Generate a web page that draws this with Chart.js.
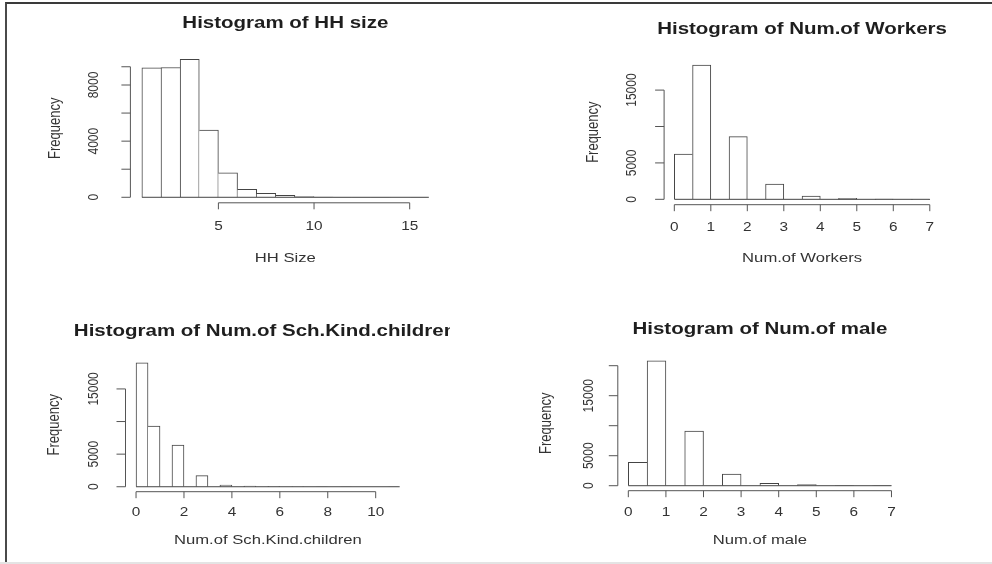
<!DOCTYPE html>
<html>
<head>
<meta charset="utf-8">
<script src="https://cdn.jsdelivr.net/npm/chart.js@4.4.0/dist/chart.umd.min.js"></script>
<style>
  html, body { margin: 0; padding: 0; background: #fff; }
  #page { position: relative; width: 992px; height: 564px; overflow: hidden; background: #fff; }
  #frame { position: absolute; left: 5px; top: 2px; right: 0; bottom: 2px; border-top: 2px solid #3a3a3a; border-left: 2px solid #4a4a4a; }
  #foot { position: absolute; left: 0; right: 0; bottom: 0; height: 2px; background: #e4e4e4; }
  canvas { position: absolute; }
</style>
</head>
<body>
<div id="page">
  <div id="frame"></div>
  <div id="foot"></div>
  <canvas id="c1" width="450" height="282" style="left:0px;top:0px"></canvas>
  <canvas id="c2" width="496" height="282" style="left:496px;top:0px"></canvas>
  <canvas id="c3" width="450" height="282" style="left:0px;top:282px"></canvas>
  <canvas id="c4" width="496" height="282" style="left:496px;top:282px"></canvas>
</div>
<script>
// ---- data ----

// HH size, bins of width 1 (lower edges)
const hhBins = [1, 2, 3, 4, 5, 6, 7, 8, 9, 10, 11, 12, 13, 14, 15];
const hhCounts = [9230, 9250, 9830, 4790, 1750, 570, 285, 140, 50, 12, 5, 2, 1, 0, 1];
const hhXTicks = [5, 10, 15];
const hhYTicks = [0, 2000, 4000, 6000, 8000, 9300];
const hhYLabels = ['0', '', '4000', '', '8000', ''];

// Num.of Workers, bins of width 0.5
const workerBins = [0, 0.5, 1, 1.5, 2, 2.5, 3, 3.5, 4, 4.5, 5, 5.5, 6, 6.5];
const workerCounts = [6220, 18450, 0, 8600, 0, 2100, 0, 450, 0, 120, 0, 20, 0, 5];
const workerXTicks = [0, 1, 2, 3, 4, 5, 6, 7];
const workerYTicks = [0, 5000, 10000, 15000];
const workerYLabels = ['0', '5000', '', '15000'];

// Num.of Sch.Kind.children, bins of width 0.5
const kidBins = [0, 0.5, 1, 1.5, 2, 2.5, 3, 3.5, 4, 4.5, 5, 5.5, 6, 6.5, 7, 7.5, 8, 8.5, 9, 9.5, 10, 10.5];
const kidCounts = [19000, 9300, 0, 6400, 0, 1700, 0, 260, 0, 120, 0, 20, 0, 5, 0, 2, 0, 1, 0, 0, 0, 1];
const kidXTicks = [0, 2, 4, 6, 8, 10];
const kidYTicks = [0, 5000, 10000, 15000];
const kidYLabels = ['0', '5000', '', '15000'];

// Num.of male, bins of width 0.5
const maleBins = [0, 0.5, 1, 1.5, 2, 2.5, 3, 3.5, 4, 4.5, 5, 5.5, 6, 6.5];
const maleCounts = [3900, 20800, 0, 9100, 0, 1950, 0, 400, 0, 170, 0, 20, 0, 5];
const maleXTicks = [0, 1, 2, 3, 4, 5, 6, 7];
const maleYTicks = [0, 5000, 10000, 15000, 20000];
const maleYLabels = ['0', '5000', '', '15000', ''];

// ---- styling ----
const FONT = '"Liberation Sans", Arial, sans-serif';
const TEXT_STRETCH = 1.28;   // the picture is squeezed wider than tall
const barStroke = '#444';
const axisStroke = '#555';

// panels: canvas origin on the page, plot box (page px), text positions (page px)
const panels = [
  {
    canvas: 'c1', origin: [0, 0], area: [130.4, 53.8, 440.3, 202.8],
    xRange: [0.4, 16.6], binWidth: 1,
    bins: hhBins, counts: hhCounts, xTicks: hhXTicks, yTicks: hhYTicks, yLabels: hhYLabels,
    title: 'Histogram of HH size', xTitle: 'HH Size',
    titleX: null, titleY: 24, tickY: 226.5, xTitleY: 258.5, yTickX: 93.5, yTitleX: 55
  },
  {
    canvas: 'c2', origin: [496, 0], area: [664.1, 59.6, 940.0, 204.7],
    xRange: [-0.28, 7.28], binWidth: 0.5,
    bins: workerBins, counts: workerCounts, xTicks: workerXTicks, yTicks: workerYTicks, yLabels: workerYLabels,
    title: 'Histogram of Num.of Workers', xTitle: 'Num.of Workers',
    titleX: null, titleY: 29.6, tickY: 227.7, xTitleY: 258, yTickX: 631.7, yTitleX: 593
  },
  {
    canvas: 'c3', origin: [0, 282], area: [125.5, 357.9, 410.2, 491.7],
    xRange: [-0.44, 11.44], binWidth: 0.5,
    bins: kidBins, counts: kidCounts, xTicks: kidXTicks, yTicks: kidYTicks, yLabels: kidYLabels,
    title: 'Histogram of Num.of Sch.Kind.children', xTitle: 'Num.of Sch.Kind.children',
    titleX: 265, titleY: 331.7, tickY: 512.7, xTitleY: 540, yTickX: 93.3, yTitleX: 54.3
  },
  {
    canvas: 'c4', origin: [496, 282], area: [617.8, 355.9, 902.0, 490.7],
    xRange: [-0.28, 7.28], binWidth: 0.5,
    bins: maleBins, counts: maleCounts, xTicks: maleXTicks, yTicks: maleYTicks, yLabels: maleYLabels,
    title: 'Histogram of Num.of male', xTitle: 'Num.of male',
    titleX: null, titleY: 330, tickY: 512.7, xTitleY: 540.8, yTickX: 588.3, yTitleX: 546.7
  }
];

function stretchedText(ctx, txt, x, y, font, color, rotate) {
  ctx.save();
  ctx.font = font;
  ctx.fillStyle = color;
  ctx.textAlign = 'center';
  ctx.textBaseline = 'middle';
  ctx.translate(x, y);
  ctx.scale(TEXT_STRETCH, 1);
  if (rotate) ctx.rotate(-Math.PI / 2);
  ctx.fillText(txt, 0, 0);
  ctx.restore();
}

// R-like axes, titles and histogram baseline
function rStylePlugin(p) {
  const ox = p.origin[0], oy = p.origin[1];
  return {
    id: 'rStyle',
    afterDatasetsDraw(chart) {
      const ctx = chart.ctx, xs = chart.scales.x, ys = chart.scales.y;
      const first = p.bins[0];
      const last = p.bins[p.bins.length - 1] + p.binWidth;
      const y0 = ys.getPixelForValue(0);
      ctx.save();
      ctx.strokeStyle = barStroke;
      ctx.lineWidth = 1;
      ctx.beginPath();
      ctx.moveTo(xs.getPixelForValue(first), y0);
      ctx.lineTo(xs.getPixelForValue(last), y0);
      ctx.stroke();
      ctx.restore();
    },
    afterDraw(chart) {
      const ctx = chart.ctx, area = chart.chartArea;
      const xs = chart.scales.x, ys = chart.scales.y;
      const xt = xs.ticks.map(t => xs.getPixelForValue(t.value));
      const yt = ys.ticks.map(t => ys.getPixelForValue(t.value));

      ctx.save();
      ctx.strokeStyle = axisStroke;
      ctx.lineWidth = 1;
      ctx.beginPath();
      // x axis
      ctx.moveTo(xt[0], area.bottom);
      ctx.lineTo(xt[xt.length - 1], area.bottom);
      xt.forEach(px => { ctx.moveTo(px, area.bottom); ctx.lineTo(px, area.bottom + 6.5); });
      // y axis
      ctx.moveTo(area.left, yt[0]);
      ctx.lineTo(area.left, yt[yt.length - 1]);
      yt.forEach(py => { ctx.moveTo(area.left, py); ctx.lineTo(area.left - 9, py); });
      ctx.stroke();
      ctx.restore();

      const tickFont = '12px ' + FONT;
      xs.ticks.forEach((t, i) => {
        stretchedText(ctx, String(p.xTicks[i]), xt[i], p.tickY - oy, tickFont, '#333', false);
      });
      ys.ticks.forEach((t, i) => {
        const lab = p.yLabels[i];
        if (lab) stretchedText(ctx, lab, p.yTickX - ox, yt[i], tickFont, '#333', true);
      });

      const cx = p.titleX !== null ? p.titleX - ox : (area.left + area.right) / 2;
      stretchedText(ctx, p.title, cx, p.titleY - oy, 'bold 16px ' + FONT, '#1e1e1e', false);
      stretchedText(ctx, p.xTitle, (area.left + area.right) / 2, p.xTitleY - oy, '13px ' + FONT, '#333', false);
      stretchedText(ctx, 'Frequency', p.yTitleX - ox, (area.top + area.bottom) / 2, '13px ' + FONT, '#333', true);
    }
  };
}

function drawPanel(p) {
  const canvas = document.getElementById(p.canvas);
  const ox = p.origin[0], oy = p.origin[1];
  const yMax = Math.max(...p.counts);
  const cnt = p.counts;

  new Chart(canvas, {
    type: 'bar',
    data: {
      datasets: [{
        data: p.bins.map((b, i) => ({ x: b + p.binWidth / 2, y: cnt[i] })),
        backgroundColor: '#ffffff',
        borderColor: barStroke,
        borderSkipped: false,
        // a shared edge between two bins is drawn once, by the taller bar
        borderWidth: function(c) {
          const i = c.dataIndex;
          if (i === undefined) return 1;
          const cur = cnt[i];
          if (!cur) return 0;
          const prev = i > 0 ? cnt[i - 1] : 0;
          const next = i < cnt.length - 1 ? cnt[i + 1] : 0;
          return { top: 1, bottom: 0, left: prev <= cur ? 1 : 0, right: next < cur ? 1 : 0 };
        },
        barPercentage: 1,
        categoryPercentage: 1
      }]
    },
    options: {
      responsive: false,
      animation: false,
      devicePixelRatio: 1,
      events: [],
      layout: {
        padding: {
          left: p.area[0] - ox,
          top: p.area[1] - oy,
          right: canvas.width - (p.area[2] - ox),
          bottom: canvas.height - (p.area[3] - oy)
        }
      },
      scales: {
        x: {
          type: 'linear', display: false, offset: false,
          min: p.xRange[0], max: p.xRange[1],
          afterBuildTicks: axis => { axis.ticks = p.xTicks.map(v => ({ value: v })); }
        },
        y: {
          type: 'linear', display: false,
          min: -0.04 * yMax, max: 1.04 * yMax,
          afterBuildTicks: axis => { axis.ticks = p.yTicks.map(v => ({ value: v })); }
        }
      },
      plugins: {
        legend: { display: false },
        tooltip: { enabled: false }
      }
    },
    plugins: [rStylePlugin(p)]
  });
}

panels.forEach(drawPanel);
</script>
</body>
</html>
